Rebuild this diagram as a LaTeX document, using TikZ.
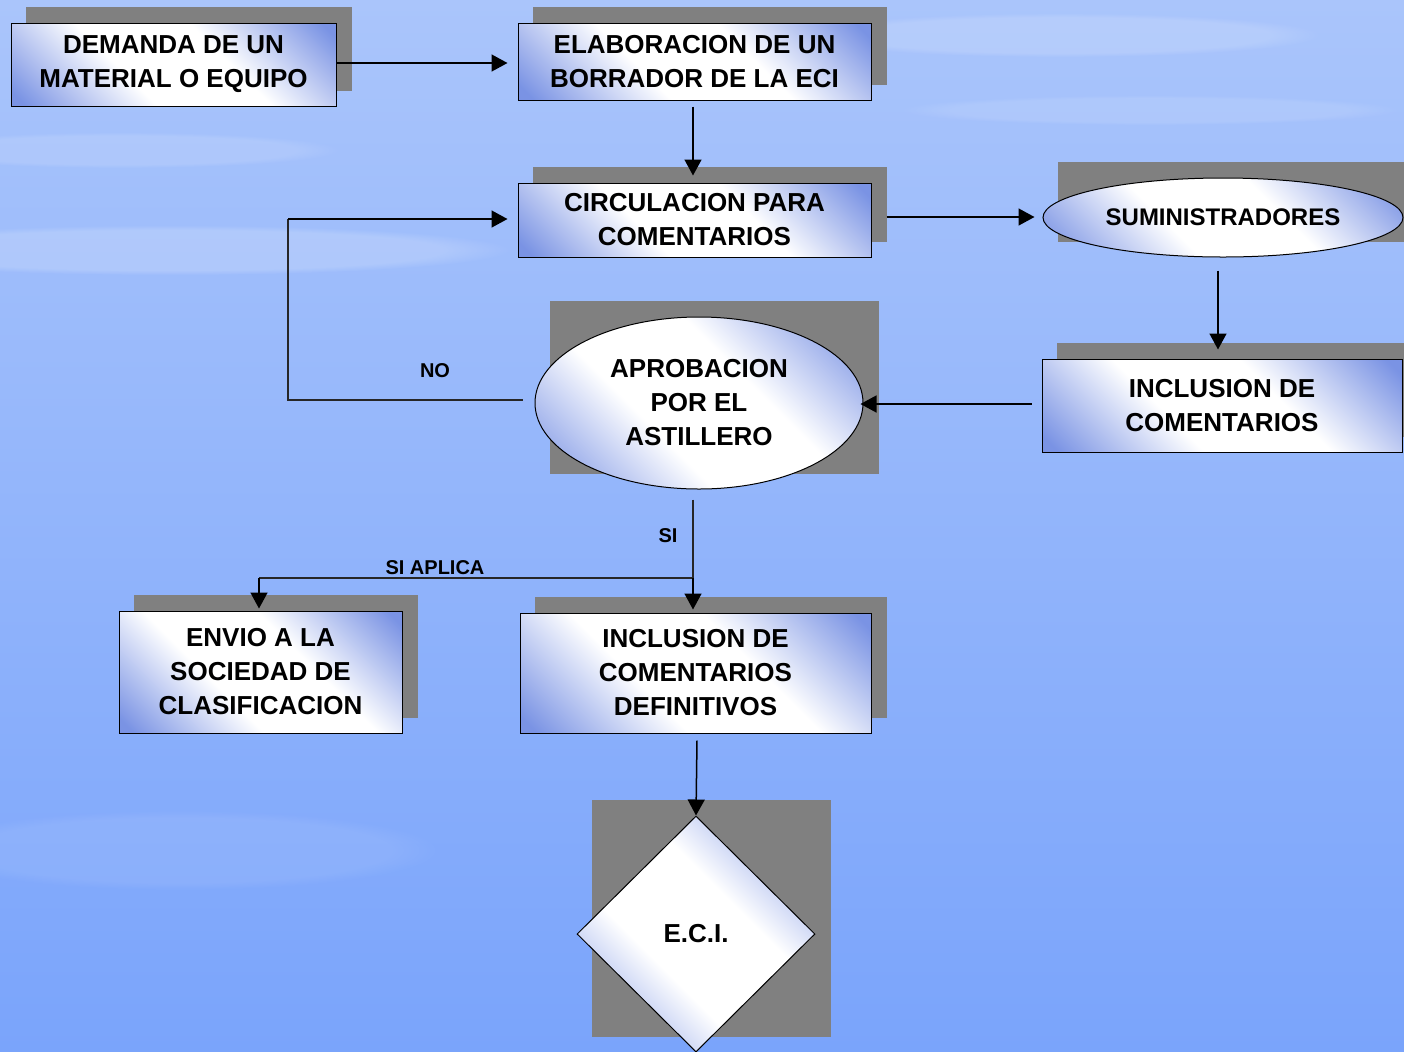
\documentclass[tikz,border=0pt]{standalone}
\usepackage{fontspec}
\setmainfont{Liberation Sans}
\usetikzlibrary{shapes.geometric,arrows.meta,calc,fadings}
\definecolor{boxblue}{HTML}{7A93E4}
\definecolor{shadowgray}{HTML}{808080}
\definecolor{bgtop}{HTML}{AAC5FB}
\definecolor{bgmid}{HTML}{8DB1FB}
\definecolor{bgbot}{HTML}{7AA4FB}
\pgfdeclarehorizontalshading{boxshade}{100bp}{color(0bp)=(boxblue); color(17bp)=(boxblue); color(40bp)=(white); color(60bp)=(white); color(83bp)=(boxblue); color(100bp)=(boxblue)}
\pgfdeclarelayer{bg}
\pgfdeclarelayer{shadowlayer}
\pgfsetlayers{bg,shadowlayer,main}
\tikzset{
  flowbox/.style={draw=black, line width=0.5pt, shade, shading=boxshade, shading angle=45,
    rectangle, inner sep=0pt, align=center, font=\fontsize{13pt}{17pt}\selectfont\bfseries},
  flowell/.style={flowbox, ellipse},
  flowdia/.style={flowbox, diamond},
  arr/.style={draw=black, line width=0.75pt, -{Triangle[length=8pt,width=8.5pt]}},
  plainline/.style={draw=black!85, line width=0.6pt},
  lbl/.style={font=\fontsize{10pt}{12pt}\selectfont\bfseries, inner sep=0pt},
  streak/.style={white, path fading=circle with fuzzy edge 20 percent},
}
\begin{document}
\begin{tikzpicture}[x=0.5pt,y=-0.5pt]
\useasboundingbox (0,0) rectangle (1404,1051);
% background
\begin{pgfonlayer}{bg}
  \shade[top color=bgtop, middle color=bgmid, bottom color=bgbot] (0,0) rectangle (1404,1051);
  \fill[streak, opacity=0.18] (170,250) ellipse [x radius=340, y radius=25];
  \fill[streak, opacity=0.12] (120,150) ellipse [x radius=220, y radius=18];
  \fill[streak, opacity=0.15] (1060,35) ellipse [x radius=260, y radius=22];
  \fill[streak, opacity=0.10] (1150,110) ellipse [x radius=250, y radius=15];
  \fill[streak, opacity=0.08] (180,850) ellipse [x radius=260, y radius=40];
\end{pgfonlayer}

% nodes
\node[flowbox, minimum width=162.5pt, minimum height=41.5pt] (dem) at (173.5,64.5) {DEMANDA DE UN\\MATERIAL O EQUIPO};
\node[flowbox, minimum width=176.5pt, minimum height=38.5pt] (ela) at (694.5,61.5) {ELABORACION DE UN\\BORRADOR DE LA ECI};
\node[flowbox, minimum width=176.5pt, minimum height=37pt] (cir) at (694.5,220) {CIRCULACION PARA\\COMENTARIOS};
\node[flowell, minimum width=180pt, minimum height=39.5pt, font=\fontsize{12pt}{15pt}\selectfont\bfseries] (sum) at (1223,217.5) {SUMINISTRADORES};
\node[flowbox, minimum width=180pt, minimum height=46.5pt] (inc) at (1222,405.5) {INCLUSION DE\\COMENTARIOS};
\node[flowell, minimum width=164pt, minimum height=86pt] (apr) at (699,403) {APROBACION\\POR EL\\ASTILLERO};
\node[flowbox, minimum width=141.5pt, minimum height=61pt] (env) at (260.5,672) {ENVIO A LA\\SOCIEDAD DE\\CLASIFICACION};
\node[flowbox, minimum width=175.5pt, minimum height=60pt] (def) at (695.5,673) {INCLUSION DE\\COMENTARIOS\\DEFINITIVOS};
\node[flowdia, minimum width=119pt, minimum height=118pt] (eci) at (696,934) {E.C.I.};

% shadows
\begin{pgfonlayer}{shadowlayer}
  \foreach \n in {dem,ela,cir,sum,inc,apr,env,def,eci}
    \fill[shadowgray] ($(\n.west |- \n.north)+(15,-16)$) rectangle ($(\n.east |- \n.south)+(15,-16)$);
\end{pgfonlayer}

% connectors
\draw[arr, shorten >=5pt] (dem.east |- 0,63) -- (ela.west |- 0,63);
\draw[arr, shorten <=3pt, shorten >=3.5pt] (ela.south -| 693,0) -- (cir.north -| 693,0);
\draw[arr, shorten <=7.5pt, shorten >=4pt] (cir.east |- 0,217) -- (sum.west |- 0,217);
\draw[arr, shorten <=6.5pt, shorten >=4.5pt] (sum.south -| 1218,0) -- (inc.north -| 1218,0);
\draw[arr, shorten <=5pt, shorten >=-1.5pt] (inc.west |- 0,404) -- (apr.east |- 0,404);

\coordinate (noc) at (288,400);
\draw[plainline] ($(apr.west)+(-12,-3)$) -- (noc) -- (noc |- 0,219);
\draw[arr, shorten >=5pt] (noc |- 0,219) -- (cir.west |- 0,219);
\node[lbl] (nolbl) at (435,371) {NO};

\coordinate (split) at (693,578);
\draw[plainline] ($(apr.south)+(-6,10)$) -- (split);
\draw[plainline] (split) -- (split -| 259,0);
\draw[arr, shorten >=1.5pt] (split) -- (split |- def.north);
\draw[arr, shorten >=1pt] (split -| 259,0) -- (env.north -| 259,0);
\node[lbl] (silbl) at (668,536) {SI};
\node[lbl] (silbl2) at (435,568) {SI APLICA};

\draw[arr] ($(def.south)+(1.5,7)$) -- (eci.north);
\end{tikzpicture}
\end{document}
